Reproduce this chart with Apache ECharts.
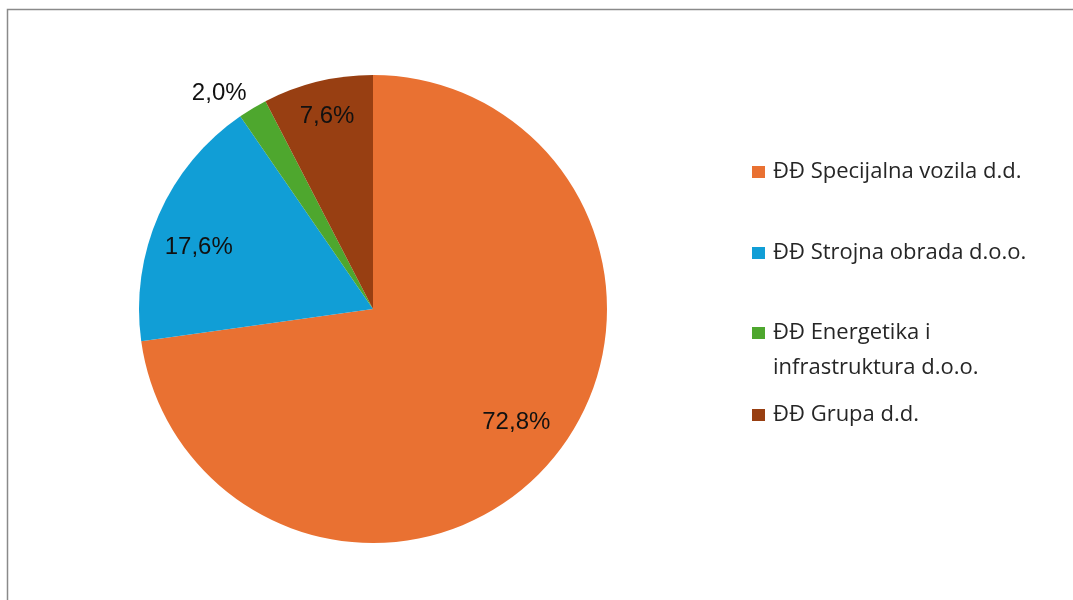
<!DOCTYPE html>
<html><head><meta charset="utf-8">
<script src="https://cdn.jsdelivr.net/npm/echarts@6/dist/echarts.min.js"></script>
<style>html,body{margin:0;padding:0;background:#fff}#c{width:1073px;height:600px}</style>
</head><body><div id="c"></div>
<script>
const categories = ['ĐĐ Specijalna vozila d.d.', 'ĐĐ Strojna obrada d.o.o.', 'ĐĐ Energetika i\ninfrastruktura d.o.o.', 'ĐĐ Grupa d.d.'];
const values = [72.8, 17.6, 2.0, 7.6];
const colors = ['#E97132', '#119ED6', '#4EA72E', '#983F12'];

const chart = echarts.init(document.getElementById('c'), null, {renderer: 'canvas'});
const fmt = p => p.value.toFixed(1).replace('.', ',') + '%';
const data = categories.map((n, i) => ({name: n, value: values[i], itemStyle: {color: colors[i]}}));
const legendTops = [154.5, 235.5, 280.5, 397.5];
const labelOffsets = [[3, -9], [-4, 13], [-4, -12], [-2, -12]];
const legendFont = {fontFamily: 'Open Sans', fontSize: 22, color: '#262626', lineHeight: 35, padding: [0, 0, 0, 3]};
option = {
  backgroundColor: '#fff',
  animation: false,
  legend: categories.map((n, i) => ({
    data: [n], left: 752, top: legendTops[i], orient: 'vertical', padding: 0,
    icon: 'rect', itemWidth: 13, itemHeight: 12, textStyle: legendFont, selectedMode: false,
    formatter: name => (name.indexOf('\n') >= 0 ? '\n' + name : name)
  })),
  graphic: [{type: 'polyline', shape: {points: [[7.5, 600], [7.5, 9.5], [1073, 9.5]]}, style: {stroke: '#8a8a8a', lineWidth: 1.5, fill: null}}],
  series: [{
    type: 'pie', center: [373, 309], radius: [0, 234], startAngle: 90, clockwise: true,
    data: data, label: {show: false}, labelLine: {show: false}, silent: true
  }, {
    type: 'pie', center: [373, 309], radius: [132, 234], startAngle: 90, clockwise: true,
    silent: true, legendHoverLink: false,
    data: data.map((d, i) => ({
      name: d.name, value: d.value, itemStyle: {color: 'rgba(0,0,0,0)'},
      label: Object.assign({offset: labelOffsets[i]}, i === 2 ? {position: 'outside', distanceToLabelLine: 0} : {})
    })),
    itemStyle: {color: 'rgba(0,0,0,0)'},
    label: {show: true, position: 'inside', formatter: fmt, fontFamily: 'Liberation Sans', fontSize: 24, color: '#111'},
    labelLine: {show: false, length: 4, length2: 0},
    emphasis: {disabled: true}
  }]
};
chart.setOption(option);
</script></body></html>
